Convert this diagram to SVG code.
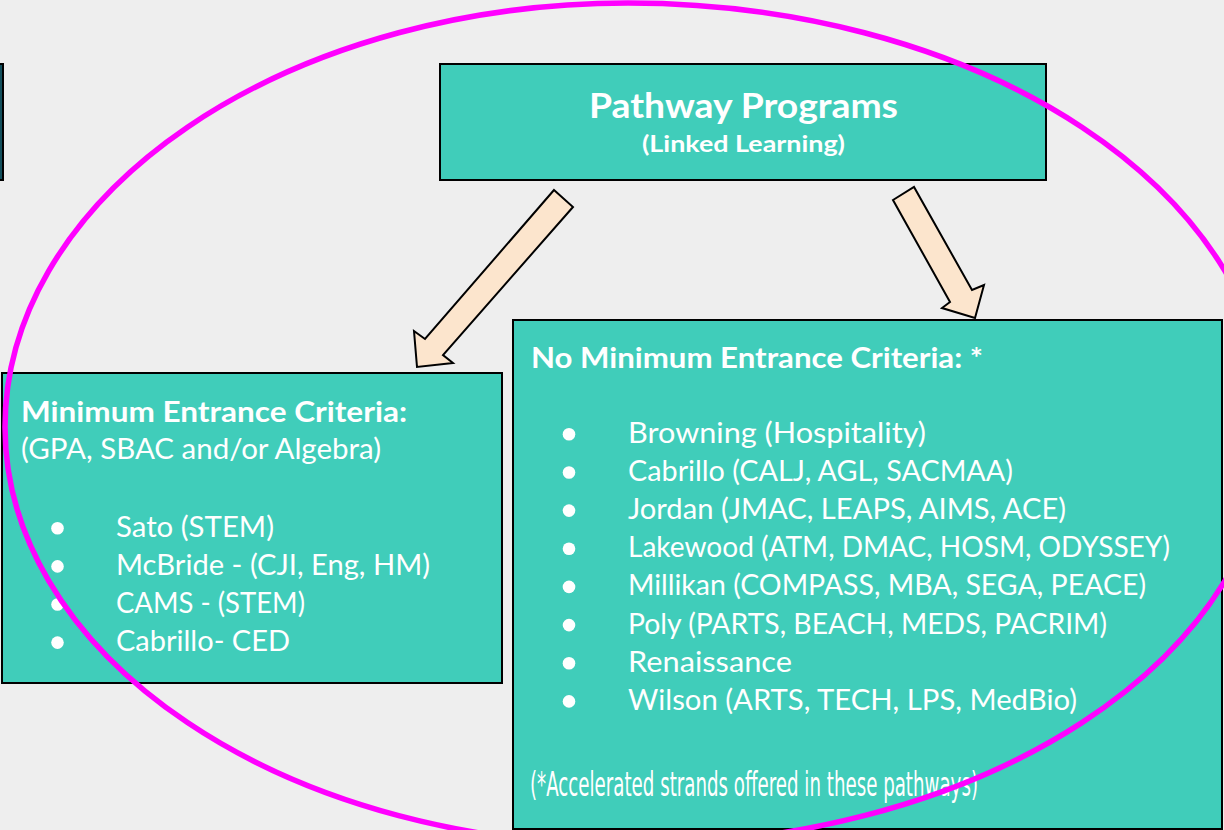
<svg xmlns="http://www.w3.org/2000/svg" width="1224" height="830" viewBox="0 0 1224 830">
<style>
.box{fill:#40CDBA;stroke:#000;stroke-width:2}
.arrow{fill:#FCE5CD;stroke:#000;stroke-width:2;stroke-linejoin:miter}
.t{font-family:Lato,"Source Sans Pro","Noto Sans",sans-serif;fill:#fff}
.b{font-weight:bold}
.bul{fill:#fff}
.hand{font-family:"Liberation Sans Narrow","DejaVu Sans Condensed",sans-serif;fill:#fff}
</style>
<rect x="0" y="0" width="1224" height="830" fill="#EEEEEE"/>
<g id="partial-box">
<rect x="-10" y="64" width="13" height="116" fill="#134F5C" stroke="#000" stroke-width="2"/>
</g>
<g id="pathway-programs">
<rect class="box" x="440" y="64" width="606" height="116"/>
<text class="t b" x="743.5" y="118" font-size="34" text-anchor="middle" textLength="309" lengthAdjust="spacingAndGlyphs">Pathway Programs</text>
<text class="t b" x="743.5" y="152" font-size="23" text-anchor="middle" textLength="203" lengthAdjust="spacingAndGlyphs">(Linked Learning)</text>
</g>
<g id="connectors">
<polygon class="arrow" points="554,190 573,207 443,355 453,363 417,367 414,331 425,339"/>
<polygon class="arrow" points="893,200 914,187 972,290 984,285 975,318 942,308 950,302"/>
</g>
<g id="minimum-criteria">
<rect class="box" x="2" y="373" width="500" height="310"/>
<text class="t b" x="21" y="421.5" font-size="29" textLength="386" lengthAdjust="spacingAndGlyphs">Minimum Entrance Criteria:</text>
<text class="t" x="21" y="459" font-size="28" textLength="360" lengthAdjust="spacingAndGlyphs">(GPA, SBAC and/or Algebra)</text>
<circle class="bul" cx="57.5" cy="528.3" r="6.3"/>
<circle class="bul" cx="57.5" cy="566.4" r="6.3"/>
<circle class="bul" cx="57.5" cy="604.5" r="6.3"/>
<circle class="bul" cx="57.5" cy="642.6" r="6.3"/>
<text class="t" x="116" y="536.7" font-size="28" textLength="158" lengthAdjust="spacingAndGlyphs">Sato (STEM)</text>
<text class="t" x="116" y="574.8" font-size="28" textLength="314" lengthAdjust="spacingAndGlyphs">McBride - (CJI, Eng, HM)</text>
<text class="t" x="116" y="612.9" font-size="28" textLength="189" lengthAdjust="spacingAndGlyphs">CAMS - (STEM)</text>
<text class="t" x="116" y="651" font-size="28" textLength="174" lengthAdjust="spacingAndGlyphs">Cabrillo- CED</text>
</g>
<g id="no-minimum-criteria">
<rect class="box" x="513" y="320" width="709" height="509"/>
<text class="t b" x="531" y="368.3" font-size="29" textLength="452" lengthAdjust="spacingAndGlyphs">No Minimum Entrance Criteria: *</text>
<circle class="bul" cx="569" cy="434.3" r="6.3"/>
<circle class="bul" cx="569" cy="472.5" r="6.3"/>
<circle class="bul" cx="569" cy="510.6" r="6.3"/>
<circle class="bul" cx="569" cy="548.8" r="6.3"/>
<circle class="bul" cx="569" cy="586.9" r="6.3"/>
<circle class="bul" cx="569" cy="625.1" r="6.3"/>
<circle class="bul" cx="569" cy="663.2" r="6.3"/>
<circle class="bul" cx="569" cy="701.4" r="6.3"/>
<text class="t" x="628" y="442.7" font-size="28" textLength="298" lengthAdjust="spacingAndGlyphs">Browning (Hospitality)</text>
<text class="t" x="628" y="480.9" font-size="28" textLength="385" lengthAdjust="spacingAndGlyphs">Cabrillo (CALJ, AGL, SACMAA)</text>
<text class="t" x="628" y="519" font-size="28" textLength="438" lengthAdjust="spacingAndGlyphs">Jordan (JMAC, LEAPS, AIMS, ACE)</text>
<text class="t" x="628" y="557.2" font-size="28" textLength="542" lengthAdjust="spacingAndGlyphs">Lakewood (ATM, DMAC, HOSM, ODYSSEY)</text>
<text class="t" x="628" y="595.3" font-size="28" textLength="518" lengthAdjust="spacingAndGlyphs">Millikan (COMPASS, MBA, SEGA, PEACE)</text>
<text class="t" x="628" y="633.5" font-size="28" textLength="479" lengthAdjust="spacingAndGlyphs">Poly (PARTS, BEACH, MEDS, PACRIM)</text>
<text class="t" x="628" y="671.6" font-size="28" textLength="164" lengthAdjust="spacingAndGlyphs">Renaissance</text>
<text class="t" x="628" y="709.8" font-size="28" textLength="449" lengthAdjust="spacingAndGlyphs">Wilson (ARTS, TECH, LPS, MedBio)</text>
<text class="hand" x="530" y="796" font-size="34" textLength="448" lengthAdjust="spacingAndGlyphs">(*Accelerated strands offered in these pathways)</text>
</g>
<g id="highlight-ellipse">
<path d="M628,3 A642,424 0 0 1 1270,427 A642,418 0 0 1 628,845 A623,418 0 0 1 5,427 A623,424 0 0 1 628,3 Z" fill="none" stroke="#FF00FF" stroke-width="5.5"/>
</g>
</svg>
